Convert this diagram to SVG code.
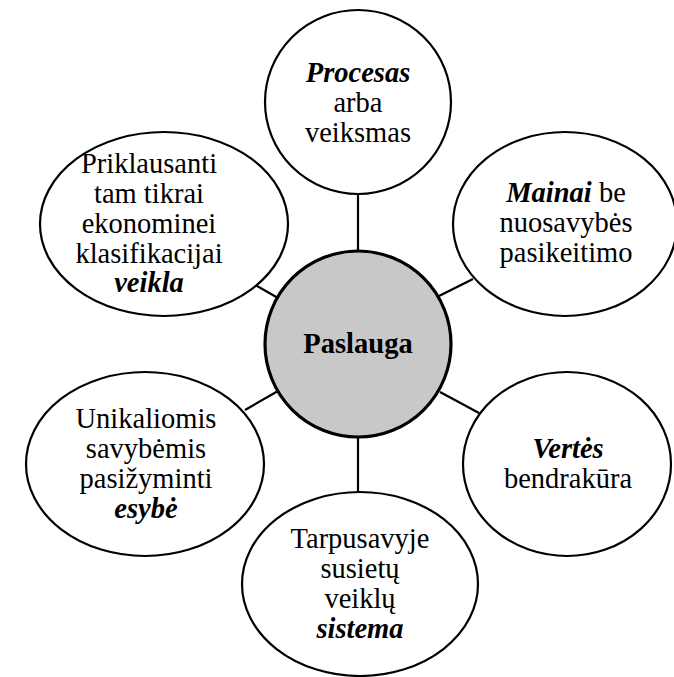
<svg xmlns="http://www.w3.org/2000/svg" width="674" height="677" viewBox="0 0 674 677">
  <rect x="0" y="0" width="674" height="677" fill="#ffffff"/>

  <!-- spokes from the hub to each satellite -->
  <g id="connectors" stroke="#000000" stroke-width="2.2" fill="none">
    <line x1="358" y1="194" x2="358" y2="252"/>
    <line x1="358" y1="436" x2="358" y2="494"/>
    <line x1="252" y1="283" x2="278" y2="298"/>
    <line x1="439" y1="296" x2="473" y2="279"/>
    <line x1="440" y1="392" x2="479" y2="413"/>
    <line x1="245" y1="410" x2="278" y2="391"/>
  </g>

  <g font-size="28.5" fill="#000000" text-anchor="middle" font-family="Liberation Serif" style="font-family: 'Liberation Serif', serif">
    <g id="hub">
      <circle cx="358" cy="344" r="93" fill="#c8c8c8" stroke="#000000" stroke-width="3.2"/>
      <text style="font-family: 'Liberation Serif', serif" font-weight="bold" x="358" y="353">Paslauga</text>
    </g>

    <g id="node-procesas">
      <ellipse cx="358" cy="102" rx="93" ry="92" fill="#ffffff" stroke="#000000" stroke-width="2.2"/>
      <text style="font-family: 'Liberation Serif', serif" font-weight="bold" font-style="italic" x="358" y="82">Procesas</text>
      <text style="font-family: 'Liberation Serif', serif" x="358" y="112">arba</text>
      <text style="font-family: 'Liberation Serif', serif" x="358" y="142">veiksmas</text>
    </g>

    <g id="node-mainai">
      <ellipse cx="565" cy="224" rx="112" ry="92" fill="#ffffff" stroke="#000000" stroke-width="2.2"/>
      <text style="font-family: 'Liberation Serif', serif" x="566" y="202"><tspan font-weight="bold" font-style="italic">Mainai</tspan> be</text>
      <text style="font-family: 'Liberation Serif', serif" x="566" y="232">nuosavybės</text>
      <text style="font-family: 'Liberation Serif', serif" x="566" y="262">pasikeitimo</text>
    </g>

    <g id="node-vertes">
      <ellipse cx="567" cy="464" rx="104" ry="92" fill="#ffffff" stroke="#000000" stroke-width="2.2"/>
      <text style="font-family: 'Liberation Serif', serif" font-weight="bold" font-style="italic" x="568" y="458">Vertės</text>
      <text style="font-family: 'Liberation Serif', serif" x="568" y="488">bendrakūra</text>
    </g>

    <g id="node-sistema">
      <ellipse cx="360" cy="584" rx="118" ry="92" fill="#ffffff" stroke="#000000" stroke-width="2.2"/>
      <text style="font-family: 'Liberation Serif', serif" x="360" y="548">Tarpusavyje</text>
      <text style="font-family: 'Liberation Serif', serif" x="360" y="578">susietų</text>
      <text style="font-family: 'Liberation Serif', serif" x="360" y="608">veiklų</text>
      <text style="font-family: 'Liberation Serif', serif" font-weight="bold" font-style="italic" x="360" y="638">sistema</text>
    </g>

    <g id="node-esybe">
      <ellipse cx="145" cy="464" rx="119" ry="92" fill="#ffffff" stroke="#000000" stroke-width="2.2"/>
      <text style="font-family: 'Liberation Serif', serif" x="146" y="428">Unikaliomis</text>
      <text style="font-family: 'Liberation Serif', serif" x="146" y="458">savybėmis</text>
      <text style="font-family: 'Liberation Serif', serif" x="146" y="488">pasižyminti</text>
      <text style="font-family: 'Liberation Serif', serif" font-weight="bold" font-style="italic" x="146" y="518">esybė</text>
    </g>

    <g id="node-veikla">
      <ellipse cx="164" cy="224" rx="124" ry="92" fill="#ffffff" stroke="#000000" stroke-width="2.2"/>
      <text style="font-family: 'Liberation Serif', serif" x="149" y="173">Priklausanti</text>
      <text style="font-family: 'Liberation Serif', serif" x="149" y="203">tam tikrai</text>
      <text style="font-family: 'Liberation Serif', serif" x="149" y="233">ekonominei</text>
      <text style="font-family: 'Liberation Serif', serif" x="149" y="263">klasifikacijai</text>
      <text style="font-family: 'Liberation Serif', serif" font-weight="bold" font-style="italic" x="149" y="292">veikla</text>
    </g>
  </g>
</svg>
